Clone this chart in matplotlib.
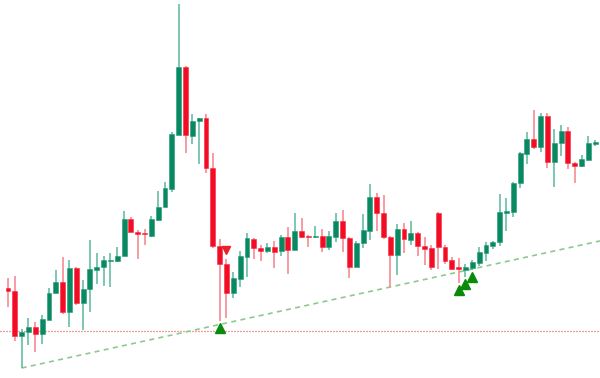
import numpy as np
import matplotlib
matplotlib.use("Agg")
import matplotlib.pyplot as plt

opens = [112, 109, 64, 68, 73, 66, 80, 107, 118, 88, 132, 97, 111, 130, 133, 139, 139, 144, 181, 168,
         167, 164, 180, 193, 211, 265, 333, 264, 279, 282, 232, 154, 136, 107, 121, 143, 161, 152, 149, 153,
         149, 163, 150, 169, 164, 163, 164, 153, 163, 179, 162, 133, 157, 169, 203, 187, 163, 145, 171, 160,
         167, 154, 152, 187, 153, 140, 132.5, 130, 132, 137, 147, 154, 158, 187.5, 188, 217, 246, 261, 253, 284,
         238, 257, 269, 237, 234, 240, 256]
highs = [122, 124, 71, 82, 78, 85, 112, 130, 143, 140, 133, 120, 160, 147, 144, 147, 153, 189, 183, 170,
         171, 184, 209, 218, 268, 396, 334, 286, 282, 286, 247, 161, 141, 128, 149, 167, 162, 155, 157, 159,
         165, 173, 187, 182, 165, 174, 171, 169, 187, 190, 163, 159, 186, 216, 207, 205, 164, 176, 177, 179,
         168, 163, 155, 188, 155, 143, 142, 136, 140, 153, 158, 159, 206, 202, 218, 248, 268, 290, 287, 287,
         271, 275, 273, 238, 245, 264, 260]
lows = [93, 59, 32, 55, 48, 56, 80, 107, 86, 73, 95, 70, 88, 116, 114, 113, 138, 144, 168, 141,
        155, 163, 179, 193, 208, 265, 247, 256, 236, 227, 152, 79, 82, 102, 113, 123, 141, 139, 147, 132,
        144, 126, 150, 162, 153, 162, 148, 150, 158, 148, 122, 133, 152, 160, 169, 161, 113, 125, 147, 155,
        144, 135, 130, 131, 136, 130, 117, 123, 130, 134, 139, 151, 154, 169, 183, 212, 236, 251, 248, 232,
        213, 244, 231, 217, 233, 240, 254]
closes = [109, 64, 68, 73, 66, 81, 107, 118, 88, 132, 97, 111, 131, 133, 140, 140, 144, 181, 168, 166,
          166, 181, 193, 212, 266, 333, 265, 279, 282, 232, 154, 136, 107, 122, 144, 162, 152, 149, 153, 148,
          163, 150, 169, 163, 163.2, 164, 153, 164, 179, 162, 133, 157, 170, 203, 187, 163, 145, 171, 161, 167,
          154, 151, 133, 153, 139, 131, 131.5, 133, 138, 148, 155, 158, 188, 188.5, 217, 247, 261, 253, 284, 238,
          257, 269, 237, 234, 241, 257, 258]

# signals and levels
buy_signals = [31, 66, 67, 68]
sell_signals = [32]
support_level = 69
trend_anchors = [2, 56]

opens = np.array(opens, float)
highs = np.array(highs, float)
lows = np.array(lows, float)
closes = np.array(closes, float)
x = np.arange(len(opens))

GREEN = "#0a8862"
GREEN_WICK = "#5ab89d"
RED = "#f20c24"
RED_WICK = "#f5808b"

fig = plt.figure(figsize=(6, 3.78), dpi=100)
ax = fig.add_axes([0, 0, 1, 1])

up = closes >= opens
body_bottom = np.minimum(opens, closes)
body_h = np.maximum(np.abs(closes - opens), 1.3)

# wicks
ax.vlines(x[up], lows[up], highs[up], color=GREEN_WICK, lw=1.1, zorder=2)
ax.vlines(x[~up], lows[~up], highs[~up], color=RED_WICK, lw=1.1, zorder=2)
# bodies
ax.bar(x[up], body_h[up], bottom=body_bottom[up], width=0.72, color=GREEN, edgecolor="#1f9c78", lw=0.4, zorder=3)
ax.bar(x[~up], body_h[~up], bottom=body_bottom[~up], width=0.72, color=RED, edgecolor="#f52a40", lw=0.4, zorder=3)

xmin, xmax = -1.17, 86.7

# support level
ax.axhline(support_level, color="#e03c3c", lw=0.9, ls=(0, (0.8, 1.6)), zorder=1)

# trend line through two lows
i0, i1 = trend_anchors
slope = (lows[i1] - lows[i0]) / (i1 - i0)
tx = np.array([i0, xmax])
ty = lows[i0] + slope * (tx - i0)
ax.plot(tx, ty, color="#8ec88e", lw=1.2, ls=(0, (3, 2.6)), zorder=1)

# markers
bs = np.array(buy_signals)
ax.plot(bs, lows[bs] - 7, ls="none", marker="^", ms=6.5, color="#0a8a0a", zorder=4)
ss = np.array(sell_signals)
ax.plot(ss, highs[ss] + 9, ls="none", marker="v", ms=6, color="#e8202a", zorder=4)

ax.set_xlim(xmin, xmax)
ax.set_ylim(22, 400)
ax.axis("off")

fig.savefig("out.png", dpi=100, facecolor="white")
